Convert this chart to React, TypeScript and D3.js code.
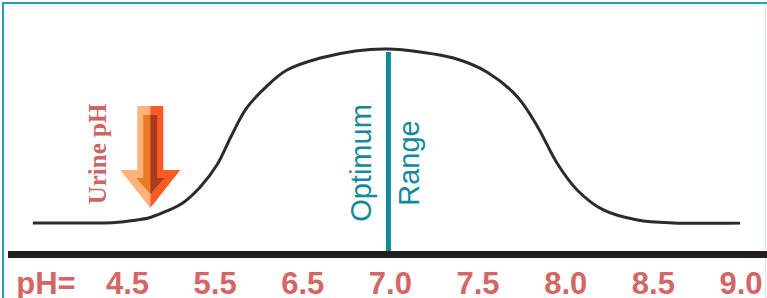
import React from 'react';
import * as d3 from 'd3';

// tick labels along the pH bar (evenly spaced, not proportional)
const phLabels = ['4.5', '5.5', '6.5', '7.0', '7.5', '8.0', '8.5', '9.0'];

// bell curve, x in label-index units, y as relative level 0..1
const curvePos = [-1.08, -0.35, -0.14, 0.06, 0.26, 0.45, 0.63, 0.83, 1.02, 1.19, 1.36, 1.59, 1.82, 2.2, 2.6, 2.97, 3.34, 3.72, 4.1, 4.45, 4.68, 4.9, 5.13, 5.43, 5.82, 6.23, 6.99];
const curveLevel = [0, 0, 0.003, 0.014, 0.032, 0.069, 0.115, 0.207, 0.333, 0.506, 0.661, 0.787, 0.879, 0.948, 0.989, 1, 0.983, 0.948, 0.868, 0.724, 0.552, 0.345, 0.19, 0.075, 0.017, 0, 0];

const optimumIndex = 3; // pH 7.0
const urineIndex = 0.26; // urine pH arrow

const W = 767;
const H = 298;
const teal = '#118a9c';
const rose = '#d46666';

export default function App() {
  const x = d3.scaleLinear().domain([0, phLabels.length - 1]).range([127.5, 741]);
  const y = d3.scaleLinear().domain([0, 1]).range([223, 49]);

  const line = d3.line<number>()
    .x((d, i) => x(curvePos[i]))
    .y((d) => y(d))
    .curve(d3.curveCatmullRom.alpha(0.5));

  const ox = x(optimumIndex) - 2;
  const ax = x(urineIndex);

  return (
    <svg width={W} height={H} style={{ position: 'absolute', left: 0, top: 0, background: '#fff' }}>
      {/* frame */}
      <line x1={2} x2={W} y1={3} y2={3} stroke="#1ea2b6" strokeWidth={2} />
      <line x1={3} x2={3} y1={2} y2={H} stroke="#1ea2b6" strokeWidth={2} />
      <line x1={765.5} x2={765.5} y1={4} y2={H} stroke="#d3e9df" strokeWidth={1} />

      {/* curve */}
      <path d={line(curveLevel) || ''} fill="none" stroke="#2b2b2b" strokeWidth={3} />

      {/* optimum line + labels */}
      <line x1={ox} x2={ox} y1={y(1) + 3} y2={251} stroke={teal} strokeWidth={5} />
      <text transform={`translate(${ox - 17},163) rotate(-90)`} textAnchor="middle"
        style={{ fontFamily: 'Liberation Sans, Arial, sans-serif', fontSize: 29, fill: teal }}>Optimum</text>
      <text transform={`translate(${ox + 31},163) rotate(-90)`} textAnchor="middle"
        style={{ fontFamily: 'Liberation Sans, Arial, sans-serif', fontSize: 29, fill: teal }}>Range</text>

      {/* urine pH arrow */}
      <g>
        <polygon points={`${ax - 13},106 ${ax},106 ${ax},208 ${ax - 30},170 ${ax - 13},170`} fill="#ffb27c" />
        <polygon points={`${ax},106 ${ax + 13},106 ${ax + 13},170 ${ax + 30},170 ${ax},208`} fill="#ff5a26" />
        <polygon points={`${ax - 7},115 ${ax},115 ${ax},194 ${ax - 14},178 ${ax - 7},178`} fill="#ec7a24" />
        <polygon points={`${ax},115 ${ax + 7},115 ${ax + 7},178 ${ax + 14},178 ${ax},194`} fill="#a83c1c" />
      </g>
      <text transform={`translate(${ax - 44},154) rotate(-90)`} textAnchor="middle"
        style={{ fontFamily: 'Liberation Serif, Times New Roman, serif', fontWeight: 'bold', fontSize: 25, fill: '#cc6565' }}>Urine pH</text>

      {/* axis bar */}
      <rect x={8} y={251} width={W - 8} height={7} fill="#231f20" />

      {/* tick labels */}
      <g style={{ fontFamily: 'Liberation Sans, Arial, sans-serif', fontWeight: 'bold', fontSize: 31, fill: rose }}>
        <text x={46} y={293.5} textAnchor="middle">pH=</text>
        {phLabels.map((t, i) => (
          <text key={t} x={x(i)} y={293.5} textAnchor="middle">{t}</text>
        ))}
      </g>
    </svg>
  );
}
